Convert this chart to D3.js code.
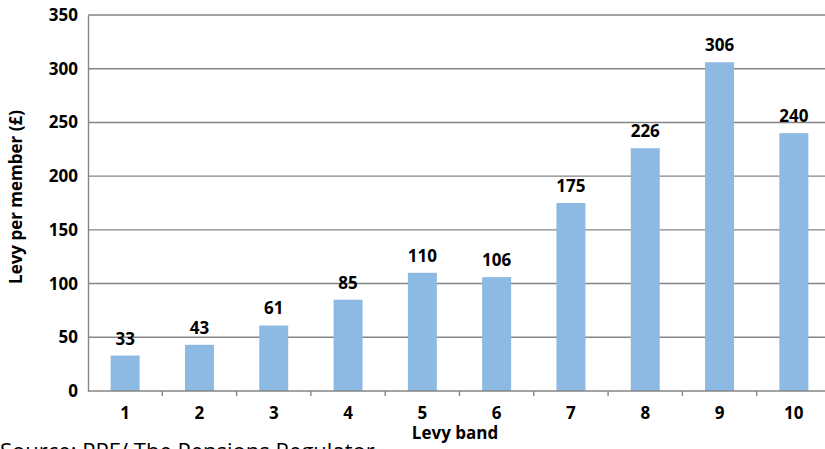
<!DOCTYPE html>
<meta charset="utf-8">
<style>
body { margin: 0; background: #fff; }
text { font-family: "Open Sans", "Noto Sans", sans-serif; fill: #000; }
.grid line { stroke: #858585; stroke-width: 1.4px; }
</style>
<body>
<script src="https://d3js.org/d3.v7.min.js"></script>
<script>

// data
var bands = ["1", "2", "3", "4", "5", "6", "7", "8", "9", "10"];
var levy = [33, 43, 61, 85, 110, 106, 175, 226, 306, 240];
var yTicks = [0, 50, 100, 150, 200, 250, 300, 350];

var width = 825, height = 449;
var plotLeft = 88, plotRight = 831, plotTop = 15, plotBottom = 391;

var svg = d3.select("body").append("svg")
    .attr("width", width)
    .attr("height", height);

// scales
var x = d3.scaleBand()
    .domain(bands)
    .range([plotLeft, plotRight])
    .paddingInner(0.61)
    .paddingOuter(0.305);
var y = d3.scaleLinear().domain([0, 350]).range([plotBottom, plotTop]);

// gridlines
svg.append("g")
    .attr("class", "grid")
    .selectAll("line")
    .data(yTicks.filter(function(d) { return d > 0; }))
  .enter().append("line")
    .attr("x1", plotLeft)
    .attr("x2", width)
    .attr("y1", function(d) { return y(d); })
    .attr("y2", function(d) { return y(d); });

// bars
svg.selectAll(".bar")
    .data(levy)
  .enter().append("rect")
    .attr("class", "bar")
    .attr("x", function(d, i) { return x(bands[i]); })
    .attr("width", x.bandwidth())
    .attr("y", function(d) { return y(d); })
    .attr("height", function(d) { return y(0) - y(d); })
    .attr("fill", "#8dbae3");

// value labels
svg.selectAll(".val")
    .data(levy)
  .enter().append("text")
    .attr("x", function(d, i) { return x(bands[i]) + x.bandwidth() / 2; })
    .attr("y", function(d) { return y(d) - 11; })
    .attr("text-anchor", "middle")
    .attr("font-size", 17)
    .attr("font-weight", 700)
    .text(function(d) { return d; });

// y axis
var yAxis = svg.append("g")
    .attr("transform", "translate(" + plotLeft + ",0)")
    .call(d3.axisLeft(y).tickValues(yTicks).tickSize(0).tickPadding(10));
yAxis.select(".domain").attr("stroke", "#858585").attr("stroke-width", 1.4);
yAxis.selectAll("text")
    .attr("font-size", 17)
    .attr("font-weight", 700)
    .attr("font-family", "'Open Sans', sans-serif");

// x axis: ticks on band boundaries
var xAxis = svg.append("g")
    .attr("transform", "translate(0," + plotBottom + ")");
xAxis.append("line")
    .attr("x1", plotLeft).attr("x2", width)
    .attr("stroke", "#858585").attr("stroke-width", 1.4);
xAxis.selectAll(".tk")
    .data(bands.slice(1))
  .enter().append("line")
    .attr("x1", function(d) { return x(d) - x.step() * x.paddingInner() / 2; })
    .attr("x2", function(d) { return x(d) - x.step() * x.paddingInner() / 2; })
    .attr("y1", 0).attr("y2", 5)
    .attr("stroke", "#858585").attr("stroke-width", 1.4);
xAxis.selectAll(".lbl")
    .data(bands)
  .enter().append("text")
    .attr("x", function(d) { return x(d) + x.bandwidth() / 2; })
    .attr("y", 28)
    .attr("text-anchor", "middle")
    .attr("font-size", 17)
    .attr("font-weight", 700)
    .text(function(d) { return d; });

// axis titles
svg.append("text")
    .attr("x", 455)
    .attr("y", 439)
    .attr("text-anchor", "middle")
    .attr("font-size", 17)
    .attr("font-weight", 700)
    .text("Levy band");

svg.append("text")
    .attr("transform", "translate(22,197) rotate(-90)")
    .attr("text-anchor", "middle")
    .attr("font-size", 17)
    .attr("font-weight", 700)
    .text("Levy per member (£)");

// source note (cut off by the frame)
svg.append("text")
    .attr("x", 0)
    .attr("y", 459)
    .attr("font-size", 22)
    .text("Source: PPF/ The Pensions Regulator");
</script>
</body>
